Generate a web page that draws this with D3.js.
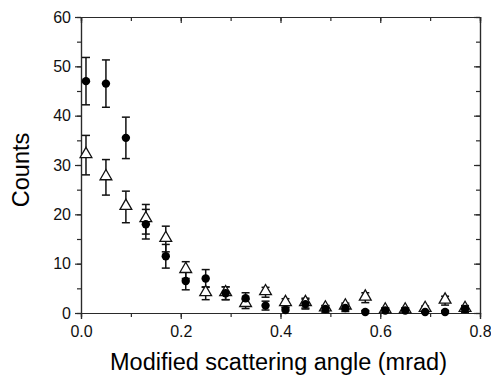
<!DOCTYPE html>
<html>
<head>
<meta charset="utf-8">
<script src="https://cdn.jsdelivr.net/npm/d3@7"></script>
<style>
  body { margin: 0; background: #fff; }
  svg { font-family: Arial, "Liberation Sans", sans-serif; }
</style>
</head>
<body>
<div class="chart"></div>
<script>
// data
var angles = [0.01, 0.05, 0.09, 0.13, 0.17, 0.21, 0.25, 0.29, 0.33, 0.37,
              0.41, 0.45, 0.49, 0.53, 0.57, 0.61, 0.65, 0.69, 0.73, 0.77];
var circleCounts = [47.0, 46.5, 35.5, 18.0, 11.5, 6.5, 7.0, 4.0, 3.0, 1.5,
                    0.6, 1.8, 0.8, 1.0, 0.2, 0.5, 0.5, 0.2, 0.2, 0.8];
var circleErr = [4.8, 4.8, 4.2, 3.0, 2.4, 1.8, 1.8, 1.3, 1.1, 0.9,
                 0.6, 1.0, 0.7, 0.7, 0.3, 0.5, 0.5, 0.3, 0.3, 0.7];
var triangleCounts = [32.0, 27.5, 21.5, 19.0, 15.0, 8.7, 4.0, 4.0, 1.8, 4.2,
                      2.0, 2.0, 0.9, 1.3, 3.1, 0.5, 0.5, 0.8, 2.5, 0.8];
var triangleErr = [4.0, 3.6, 3.2, 3.0, 2.6, 1.7, 1.3, 1.3, 0.9, 1.0,
                   0.9, 1.0, 0.6, 0.7, 1.0, 0.5, 0.5, 0.6, 0.9, 0.6];
var xTicks = [0.0, 0.2, 0.4, 0.6, 0.8];
var yTicks = [0, 10, 20, 30, 40, 50, 60];

var margin = {top: 17, right: 11, bottom: 63, left: 81},
    width = 491 - margin.left - margin.right,
    height = 376 - margin.top - margin.bottom;

var svg = d3.select(".chart").append("svg")
    .attr("width", 491)
    .attr("height", 376)
  .append("g")
    .attr("transform", "translate(" + margin.left + "," + margin.top + ")");

var x = d3.scaleLinear().domain([0, 0.8]).range([0, width]);
var y = d3.scaleLinear().domain([0, 60]).range([height, 0]);

var ink = "#2a2a2a";

// frame axes: left/bottom ticks out, top/right ticks in
function styleAxis(g) {
  g.selectAll("path, line").attr("stroke", ink).attr("stroke-width", 1.2);
  g.selectAll("text").attr("fill", "#111").style("font-size", "16px");
}

var minorX = d3.range(0, 0.81, 0.1), minorY = d3.range(0, 61, 5);

svg.append("g")
    .attr("transform", "translate(0," + height + ")")
    .call(d3.axisBottom(x).tickValues(minorX).tickSize(4).tickFormat(""))
    .call(styleAxis);
svg.append("g")
    .attr("transform", "translate(0," + height + ")")
    .call(d3.axisBottom(x).tickValues(xTicks).tickSize(6).tickPadding(7).tickFormat(d3.format(".1f")))
    .call(styleAxis);
svg.append("g")
    .call(d3.axisLeft(y).tickValues(minorY).tickSize(4).tickFormat(""))
    .call(styleAxis);
svg.append("g")
    .call(d3.axisLeft(y).tickValues(yTicks).tickSize(6).tickPadding(4))
    .call(styleAxis);
svg.append("g")
    .call(d3.axisTop(x).tickValues(minorX).tickSize(-4).tickFormat(""))
    .call(styleAxis);
svg.append("g")
    .call(d3.axisTop(x).tickValues(xTicks).tickSize(-6).tickFormat(""))
    .call(styleAxis);
svg.append("g")
    .attr("transform", "translate(" + width + ",0)")
    .call(d3.axisRight(y).tickValues(minorY).tickSize(-4).tickFormat(""))
    .call(styleAxis);
svg.append("g")
    .attr("transform", "translate(" + width + ",0)")
    .call(d3.axisRight(y).tickValues(yTicks).tickSize(-6).tickFormat(""))
    .call(styleAxis);

// error bars
function errorBars(vals, errs, cls) {
  var pts = angles.map(function(a, i) { return {a: a, v: vals[i], e: errs[i]}; });
  var g = svg.append("g").attr("class", cls)
      .attr("stroke", "#111").attr("stroke-width", 1.5).attr("fill", "none");
  g.selectAll(".stem").data(pts).enter().append("line")
      .attr("x1", function(d) { return x(d.a); })
      .attr("x2", function(d) { return x(d.a); })
      .attr("y1", function(d) { return y(d.v + d.e); })
      .attr("y2", function(d) { return y(Math.max(d.v - d.e, 0)); });
  g.selectAll(".capTop").data(pts).enter().append("line")
      .attr("x1", function(d) { return x(d.a) - 4; })
      .attr("x2", function(d) { return x(d.a) + 4; })
      .attr("y1", function(d) { return y(d.v + d.e); })
      .attr("y2", function(d) { return y(d.v + d.e); });
  g.selectAll(".capBot").data(pts.filter(function(d) { return d.v - d.e > 0; })).enter().append("line")
      .attr("x1", function(d) { return x(d.a) - 4; })
      .attr("x2", function(d) { return x(d.a) + 4; })
      .attr("y1", function(d) { return y(d.v - d.e); })
      .attr("y2", function(d) { return y(d.v - d.e); });
  return pts;
}

var tri = errorBars(triangleCounts, triangleErr, "tri-err");
var circ = errorBars(circleCounts, circleErr, "circ-err");

svg.selectAll(".tri").data(tri).enter().append("path")
    .attr("d", d3.symbol().type(d3.symbolTriangle).size(60))
    .attr("transform", function(d) { return "translate(" + x(d.a) + "," + (y(d.v) - 1) + ")"; })
    .attr("fill", "#fff")
    .attr("stroke", "#111")
    .attr("stroke-width", 1.3);

svg.selectAll(".dot").data(circ).enter().append("circle")
    .attr("cx", function(d) { return x(d.a); })
    .attr("cy", function(d) { return y(d.v); })
    .attr("r", 4.2)
    .attr("fill", "#000");

svg.append("text")
    .attr("x", width / 2 - 2)
    .attr("y", height + 57)
    .attr("text-anchor", "middle")
    .style("font-size", "23.5px")
    .attr("fill", "#000")
    .text("Modified scattering angle (mrad)");

svg.append("text")
    .attr("transform", "translate(-52," + (height / 2 + 5) + ") rotate(-90)")
    .attr("text-anchor", "middle")
    .style("font-size", "23.5px")
    .attr("fill", "#000")
    .text("Counts");
</script>
</body>
</html>
